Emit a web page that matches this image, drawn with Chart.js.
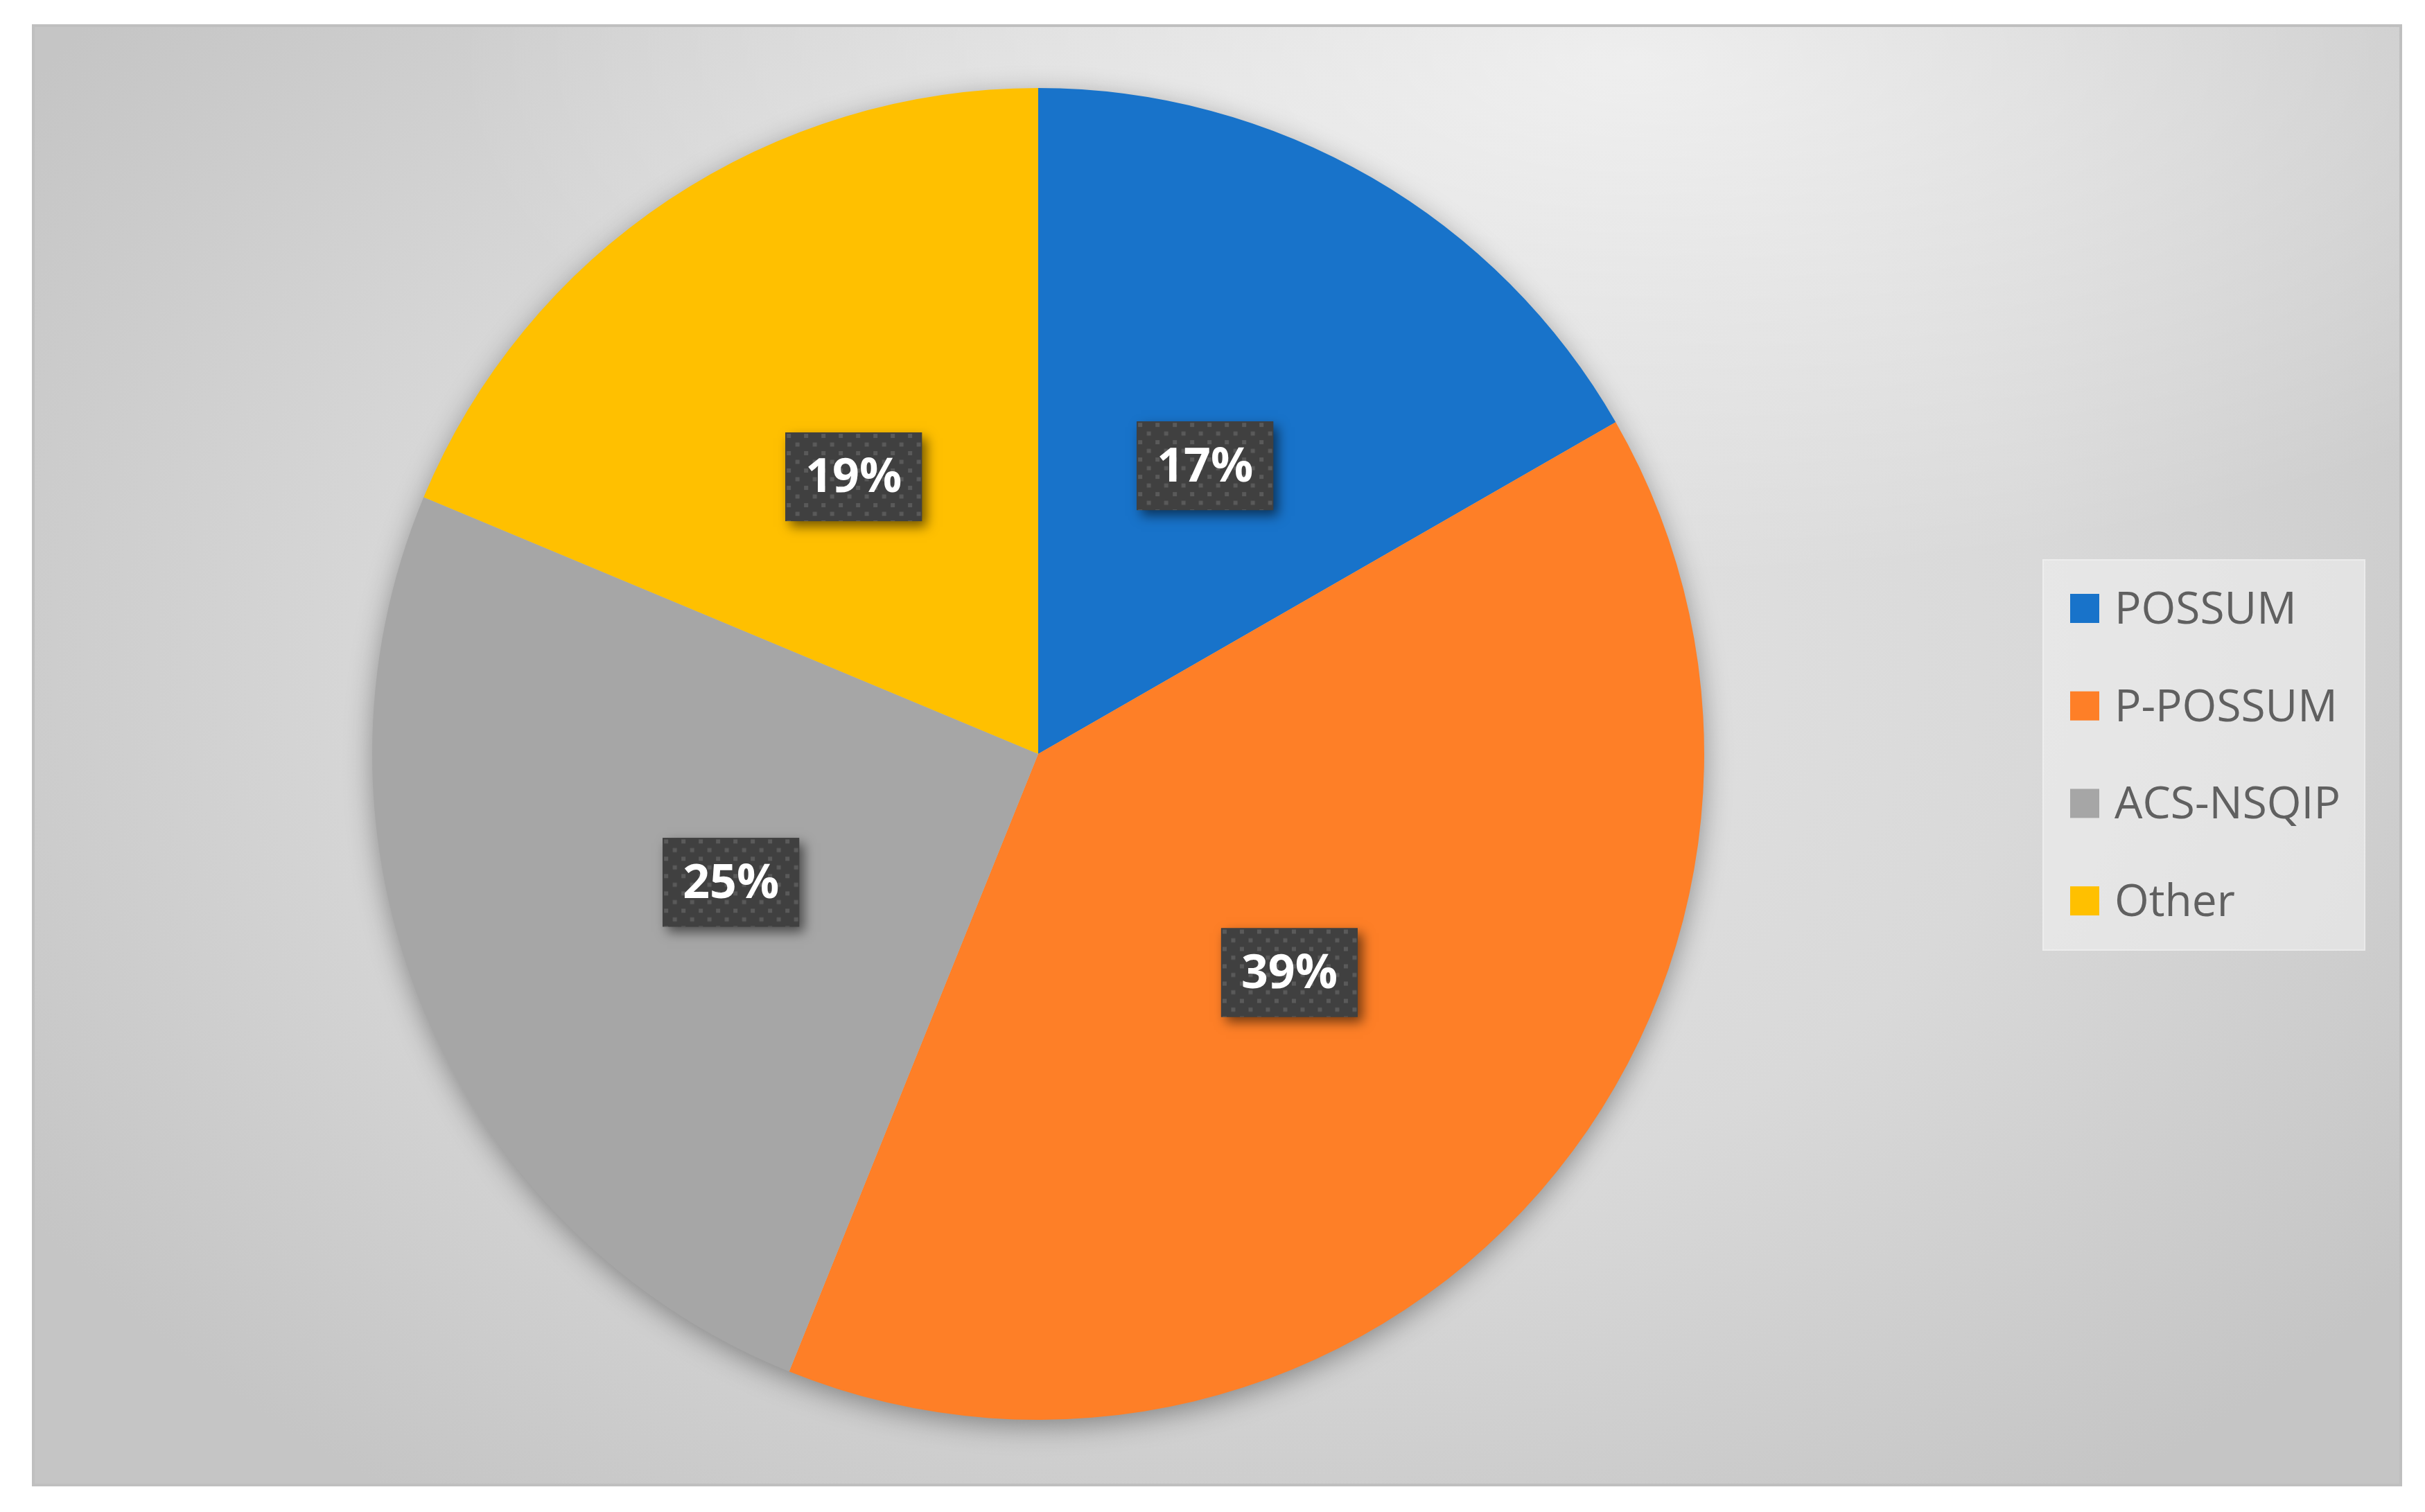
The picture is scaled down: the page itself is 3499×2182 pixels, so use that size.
<!DOCTYPE html>
<html>
<head>
<meta charset="utf-8">
<script src="https://cdn.jsdelivr.net/npm/chart.js@4.4.1/dist/chart.umd.min.js"></script>
<style>
  html,body{margin:0;padding:0;background:#fff;width:3499px;height:2182px;overflow:hidden}
  #panel{position:absolute;left:46px;top:35px;width:3420px;height:2110px;box-sizing:border-box;
    border:4px solid #bfbfbf;
    background:
      radial-gradient(ellipse 1700px 750px at 2300px 50px, rgba(255,255,255,0.6), rgba(255,255,255,0) 100%),
      radial-gradient(ellipse 2100px 1500px at 1750px 900px, #e5e5e5 0%, #d9d9d9 55%, #c5c5c5 100%);}
  #pie{position:absolute;left:-4px;top:-4px}
</style>
</head>
<body>
<div id="panel"><canvas id="pie" width="3420" height="2110"></canvas></div>
<script>
// ── data (shares) ────────────────────────────────────────────────────
const LABELS = ['POSSUM','P-POSSUM','ACS-NSQIP','Other'];
const VALUES = [16.7,39.4,25.2,18.7];
const COLORS = ['#1873CA','#FE7F27','#A6A6A6','#FFC000'];

const FONT = "'Open Sans', 'Noto Sans', sans-serif";
const TXT  = '#606060';

// dotted fill used by Excel's dark label boxes
function dotPattern(ctx){
  const c=document.createElement('canvas');c.width=25;c.height=25;
  const g=c.getContext('2d');
  g.fillStyle='#404040';g.fillRect(0,0,25,25);
  g.fillStyle='#5a5a5a';
  g.fillRect(2,2,6,6);g.fillRect(14.5,14.5,6,6);
  return ctx.createPattern(c,'repeat');
}

// soft shadow under the pie
const pieShadow={
  id:'pieShadow',
  beforeDatasetsDraw(chart){
    const arc=chart.getDatasetMeta(0).data[0];
    if(!arc)return;
    const ctx=chart.ctx;
    ctx.save();
    ctx.shadowColor='rgba(0,0,0,0.38)';
    ctx.shadowBlur=40;ctx.shadowOffsetX=0;ctx.shadowOffsetY=10;
    ctx.fillStyle='#bbbbbb';
    ctx.beginPath();ctx.arc(arc.x,arc.y,arc.outerRadius-2,0,Math.PI*2);ctx.fill();
    ctx.restore();
  }
};

// percent labels in dark boxes
const boxLabels={
  id:'boxLabels',
  afterDatasetsDraw(chart){
    const ctx=chart.ctx;
    const total=VALUES.reduce((a,b)=>a+b,0);
    const pat=dotPattern(ctx);
    chart.getDatasetMeta(0).data.forEach((arc,i)=>{
      const p=arc.getCenterPoint();
      const txt=Math.round(VALUES[i]/total*100)+'%';
      const w=197,h=128;
      ctx.save();
      ctx.shadowColor='rgba(0,0,0,0.55)';ctx.shadowBlur=16;ctx.shadowOffsetX=7;ctx.shadowOffsetY=8;
      ctx.fillStyle='#404040';
      ctx.fillRect(p.x-w/2,p.y-h/2,w,h);
      ctx.restore();
      ctx.save();
      ctx.fillStyle=pat;
      ctx.translate(p.x-w/2,p.y-h/2);
      ctx.fillRect(0,0,w,h);
      ctx.restore();
      ctx.save();
      ctx.fillStyle='#ffffff';
      ctx.font='bold 68px '+FONT;
      ctx.textAlign='center';ctx.textBaseline='middle';
      ctx.fillText(txt,p.x,p.y+3);
      ctx.restore();
    });
  }
};

// legend box at the right, drawn from the chart's own labels/colours
const sideLegend={
  id:'sideLegend',
  afterDraw(chart){
    const ctx=chart.ctx;
    const x0=2901,y0=772,w=466,h=565;
    ctx.save();
    ctx.fillStyle='rgba(240,240,240,0.6)';
    ctx.fillRect(x0,y0,w,h);
    ctx.strokeStyle='rgba(255,255,255,0.25)';ctx.lineWidth=2;
    ctx.strokeRect(x0+1,y0+1,w-2,h-2);
    ctx.font='64px '+FONT;
    ctx.textBaseline='alphabetic';
    chart.data.labels.forEach((lb,i)=>{
      const cy=y0+71+i*140.7;
      ctx.fillStyle=chart.data.datasets[0].backgroundColor[i];
      ctx.fillRect(x0+40,cy-21,42,42);
      ctx.fillStyle=TXT;
      ctx.fillText(lb,x0+104,cy+22);
    });
    ctx.restore();
  }
};

new Chart(document.getElementById('pie'),{
  type:'pie',
  data:{labels:LABELS,datasets:[{data:VALUES,backgroundColor:COLORS,borderWidth:0}]},
  options:{
    responsive:false,
    animation:false,
    devicePixelRatio:1,
    layout:{padding:{left:491,right:1007,top:92,bottom:96}},
    plugins:{legend:{display:false},tooltip:{enabled:false}}
  },
  plugins:[pieShadow,boxLabels,sideLegend]
});
</script>
</body>
</html>
